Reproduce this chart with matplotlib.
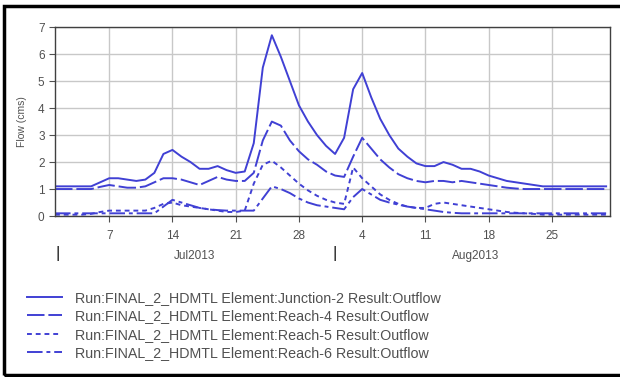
import matplotlib
matplotlib.use("Agg")
import matplotlib.pyplot as plt
import pandas as pd
from matplotlib.patches import Rectangle

plt.rcParams['font.family'] = ['Liberation Sans', 'DejaVu Sans']

# daily values, Jul 1 .. Aug 31 2013
dias = pd.date_range('2013-07-01', '2013-08-31', freq='D')

junction2 = [1.1, 1.1, 1.1, 1.1, 1.1, 1.25, 1.4, 1.4, 1.35, 1.3,
             1.35, 1.6, 2.3, 2.45, 2.2, 2.0, 1.75, 1.75, 1.85, 1.7,
             1.6, 1.65, 2.7, 5.5, 6.7, 5.9, 5.0, 4.1, 3.5, 3.0,
             2.6, 2.3, 2.9, 4.7, 5.3, 4.4, 3.6, 3.0, 2.5, 2.2,
             1.95, 1.85, 1.85, 2.0, 1.9, 1.75, 1.75, 1.65, 1.5, 1.4,
             1.3, 1.25, 1.2, 1.15, 1.1, 1.1, 1.1, 1.1, 1.1, 1.1,
             1.1, 1.1]
reach4 = [1.0, 1.0, 1.0, 1.0, 1.0, 1.08, 1.15, 1.1, 1.05, 1.05,
          1.1, 1.25, 1.4, 1.4, 1.35, 1.25, 1.15, 1.3, 1.45, 1.35,
          1.3, 1.3, 1.6, 2.8, 3.5, 3.35, 2.8, 2.4, 2.1, 1.9,
          1.65, 1.5, 1.45, 2.2, 2.9, 2.5, 2.1, 1.8, 1.55, 1.4,
          1.3, 1.25, 1.3, 1.3, 1.25, 1.3, 1.25, 1.2, 1.15, 1.1,
          1.05, 1.02, 1.0, 1.0, 1.0, 1.0, 1.0, 1.0, 1.0, 1.0,
          1.0, 1.0]
reach5 = [0.05, 0.05, 0.05, 0.05, 0.08, 0.15, 0.2, 0.2, 0.2, 0.2,
          0.2, 0.3, 0.45, 0.5, 0.4, 0.35, 0.3, 0.25, 0.2, 0.15,
          0.15, 0.2, 1.2, 1.9, 2.05, 1.8, 1.5, 1.2, 0.95, 0.75,
          0.6, 0.5, 0.45, 1.8, 1.4, 1.1, 0.8, 0.6, 0.45, 0.35,
          0.3, 0.3, 0.45, 0.5, 0.45, 0.4, 0.35, 0.3, 0.25, 0.2,
          0.15, 0.12, 0.1, 0.08, 0.05, 0.05, 0.05, 0.05, 0.05, 0.05,
          0.05, 0.05]
reach6 = [0.1, 0.1, 0.1, 0.1, 0.1, 0.1, 0.1, 0.1, 0.1, 0.1,
          0.1, 0.1, 0.35, 0.6, 0.5, 0.4, 0.3, 0.25, 0.22, 0.2,
          0.2, 0.2, 0.2, 0.65, 1.1, 1.0, 0.85, 0.65, 0.5, 0.4,
          0.35, 0.3, 0.25, 0.7, 1.0, 0.8, 0.6, 0.5, 0.42, 0.35,
          0.3, 0.25, 0.2, 0.15, 0.12, 0.1, 0.1, 0.1, 0.1, 0.1,
          0.1, 0.1, 0.1, 0.1, 0.1, 0.1, 0.1, 0.1, 0.1, 0.1,
          0.1, 0.1]

nomes = ['Run:FINAL_2_HDMTL Element:Junction-2 Result:Outflow',
         'Run:FINAL_2_HDMTL Element:Reach-4 Result:Outflow',
         'Run:FINAL_2_HDMTL Element:Reach-5 Result:Outflow',
         'Run:FINAL_2_HDMTL Element:Reach-6 Result:Outflow']

dias_tick = pd.to_datetime(['2013-07-07', '2013-07-14', '2013-07-21', '2013-07-28',
                            '2013-08-04', '2013-08-11', '2013-08-18', '2013-08-25'])
meses = ['Jul2013', 'Aug2013']
meio_mes = pd.to_datetime(['2013-07-16 12:00', '2013-08-16 12:00'])
inicio_mes = pd.to_datetime(['2013-07-01 06:00', '2013-08-01 00:00'])

azul = '#4040d4'
cinza = '#505050'

fig = plt.figure(figsize=(6.2, 3.77), dpi=100)
ax = fig.add_axes([0.0887, 0.427, 0.895, 0.501])

ax.plot(dias, junction2, color=azul, lw=1.4, label=nomes[0])
ax.plot(dias, reach4, color=azul, lw=1.4, dashes=(9, 2), label=nomes[1])
ax.plot(dias, reach5, color=azul, lw=1.4, dashes=(2.5, 2), label=nomes[2])
ax.plot(dias, reach6, color=azul, lw=1.4, dashes=(8, 2, 2, 2), label=nomes[3])

ax.set_xlim(pd.Timestamp('2013-07-01'), pd.Timestamp('2013-08-31 10:00'))
ax.set_ylim(0, 7)
ax.set_yticks(range(0, 8))
ax.set_xticks(dias_tick)
ax.set_xticklabels([str(d.day) for d in dias_tick])
ax.grid(True, color='#c8c8c8', lw=1)
ax.tick_params(labelsize=8.5, colors=cinza, labelcolor=cinza, length=4)
ax.tick_params(axis='x', pad=6)
for s in ax.spines.values():
    s.set_color('#404040')
    s.set_linewidth(1)
ax.set_ylabel('Flow (cms)', fontsize=7.5, color=cinza, labelpad=8)

for m, x in zip(meses, meio_mes):
    ax.annotate(m, xy=(x, 0), xycoords=('data', 'axes fraction'),
                xytext=(0, -29), textcoords='offset points',
                ha='center', va='center', fontsize=8.5, color=cinza)
for x in inicio_mes:
    ax.annotate('|', xy=(x, 0), xycoords=('data', 'axes fraction'),
                xytext=(0, -27), textcoords='offset points',
                ha='center', va='center', fontsize=12, color='#202020')

leg = fig.legend(loc='upper left', bbox_to_anchor=(0.022, 0.262), frameon=False,
                 fontsize=10.3, handlelength=2.5, labelspacing=0.3, handletextpad=0.9)
for t in leg.get_texts():
    t.set_color(cinza)

# moldura preta da figura
fig.patches.append(Rectangle((0.006, 0.004), 1.2, 0.98, transform=fig.transFigure,
                             fill=False, edgecolor='black', lw=2.5))

fig.savefig('out.png', dpi=100)
